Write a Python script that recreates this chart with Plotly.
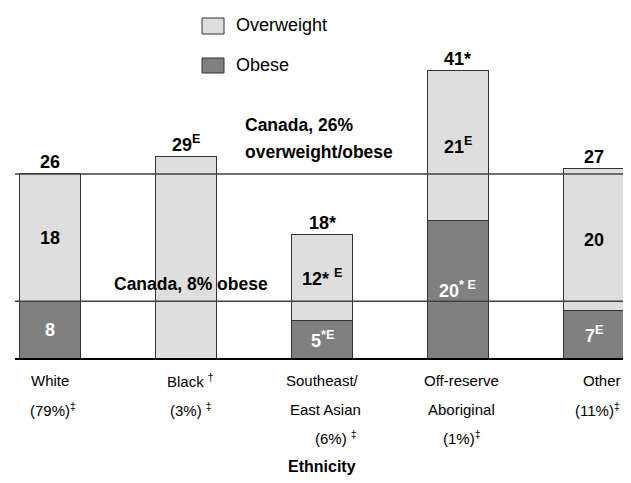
import plotly.graph_objects as go

# ---- data ----
categories = ["White", "Black", "Southeast/East Asian", "Off-reserve Aboriginal", "Other"]
obese = [8.0, 0.0, 5.3, 19.4, 6.7]
overweight = [18.0, 28.4, 12.1, 21.2, 20.0]

total_labels = ["26", "29<sup>E</sup>", "18*", "41*", "27"]
overweight_labels = ["18", "", "12* <sup>E</sup>", "21<sup>E</sup>", "20"]
obese_labels = ["8", "", "5<sup>*E</sup>", "20<sup>* E</sup>", "7<sup>E</sup>"]

cat_label_lines = [
    ["White", "(79%)<sup>‡</sup>"],
    ["Black <sup>†</sup>", "(3%) <sup>‡</sup>"],
    ["Southeast/", "East Asian", "(6%) <sup>‡</sup>"],
    ["Off-reserve", "Aboriginal", "(1%)<sup>‡</sup>"],
    ["Other", "(11%)<sup>‡</sup>"],
]
cat_label_xshift = [
    [0, 3],
    [4, 5],
    [0, 3, 14],
    [4, 4, 4],
    [8, 4],
]
line_offsets = [22, 51, 79]

canada_overall = 26
canada_obese = 8

FONT = "Liberation Sans, Arial, sans-serif"
LIGHT = "#dedede"
DARK = "#808080"
EDGE = "#333333"

fig = go.Figure()
fig.add_trace(go.Bar(
    x=categories, y=obese, name="Obese",
    marker=dict(color=DARK, line=dict(color=EDGE, width=1)),
    hoverinfo="skip",
))
fig.add_trace(go.Bar(
    x=categories, y=overweight, name="Overweight",
    marker=dict(color=LIGHT, line=dict(color=EDGE, width=1)),
    hoverinfo="skip",
))

annotations = []
for i, c in enumerate(categories):
    tot = obese[i] + overweight[i]
    annotations.append(dict(x=c, y=tot, xref="x", yref="y", text="<b>" + total_labels[i] + "</b>",
                            showarrow=False, yanchor="bottom", yshift=0,
                            font=dict(family=FONT, size=18, color="#000000")))
    if overweight_labels[i]:
        annotations.append(dict(x=c, y=obese[i] + overweight[i] / 2, xref="x", yref="y",
                                text="<b>" + overweight_labels[i] + "</b>", showarrow=False,
                                font=dict(family=FONT, size=18, color="#000000")))
    if obese_labels[i]:
        annotations.append(dict(x=c, y=obese[i] / 2, xref="x", yref="y",
                                text="<b>" + obese_labels[i] + "</b>", showarrow=False,
                                font=dict(family=FONT, size=18, color="#ffffff")))
    for j, line in enumerate(cat_label_lines[i]):
        annotations.append(dict(x=c, y=0, xref="x", yref="paper", text=line,
                                showarrow=False, yanchor="middle",
                                yshift=-line_offsets[j], xshift=cat_label_xshift[i][j],
                                font=dict(family=FONT, size=15, color="#000000")))

annotations.append(dict(x=0.3713, y=canada_overall, xref="paper", yref="y",
                        text="<b>Canada, 26%</b>", showarrow=False,
                        xanchor="left", yanchor="bottom", yshift=37,
                        font=dict(family=FONT, size=17.5, color="#000000")))
annotations.append(dict(x=0.3713, y=canada_overall, xref="paper", yref="y",
                        text="<b>overweight/obese</b>", showarrow=False,
                        xanchor="left", yanchor="bottom", yshift=10,
                        font=dict(family=FONT, size=17.5, color="#000000")))
annotations.append(dict(x=0.4153, y=canada_obese, xref="paper", yref="y",
                        text="<b>Canada, 8% obese</b>", showarrow=False,
                        xanchor="right", yanchor="bottom", yshift=5,
                        font=dict(family=FONT, size=17.5, color="#000000")))
annotations.append(dict(x=0.5, y=0, xref="paper", yref="paper",
                        text="<b>Ethnicity</b>", showarrow=False, yanchor="middle",
                        yshift=-108, font=dict(family=FONT, size=16, color="#000000")))

# legend (drawn manually)
annotations.append(dict(x=0.3567, y=0.9569, xref="paper", yref="paper", text="Overweight",
                        showarrow=False, xanchor="left", yanchor="middle",
                        font=dict(family=FONT, size=18, color="#000000")))
annotations.append(dict(x=0.3567, y=0.8420, xref="paper", yref="paper", text="Obese",
                        showarrow=False, xanchor="left", yanchor="middle",
                        font=dict(family=FONT, size=18, color="#000000")))

shapes = [
    dict(type="rect", xref="paper", yref="paper", x0=0.3046, x1=0.3404, y0=0.9310, y1=0.9770,
         fillcolor=LIGHT, line=dict(color=EDGE, width=1)),
    dict(type="rect", xref="paper", yref="paper", x0=0.3046, x1=0.3404, y0=0.8190, y1=0.8621,
         fillcolor=DARK, line=dict(color=EDGE, width=1)),
    dict(type="line", xref="paper", yref="y", x0=0, x1=1, y0=canada_overall, y1=canada_overall,
         line=dict(color="#404040", width=1.5), layer="above"),
    dict(type="line", xref="paper", yref="y", x0=0, x1=1, y0=canada_obese, y1=canada_obese,
         line=dict(color="#404040", width=1.5), layer="above"),
]

fig.update_layout(
    width=631, height=483,
    margin=dict(l=7, r=10, t=2, b=133),
    barmode="stack", bargap=0.551,
    showlegend=False,
    plot_bgcolor="#ffffff", paper_bgcolor="#ffffff",
    xaxis=dict(type="category", categoryorder="array", categoryarray=categories,
               range=[-0.2575, 4.2575], showticklabels=False, ticks="",
               showgrid=False, zeroline=False, showline=True, linecolor="#000000", linewidth=1.5,
               fixedrange=True),
    yaxis=dict(range=[0, 49.15], visible=False, showgrid=False, zeroline=False, fixedrange=True),
    annotations=annotations,
    shapes=shapes,
)

fig.write_html("out.html")
